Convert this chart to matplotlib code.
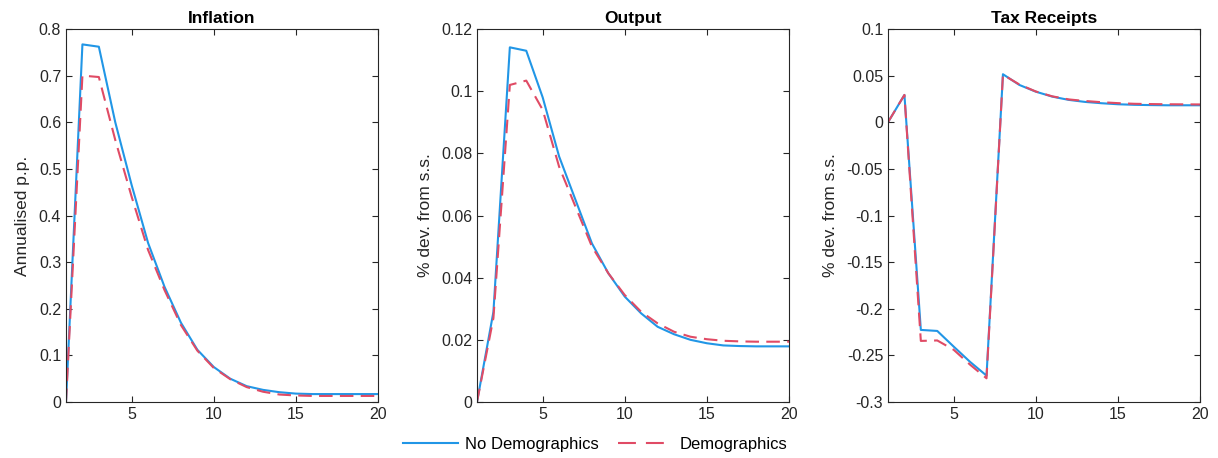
import matplotlib
matplotlib.use("Agg")
import matplotlib.pyplot as plt
from matplotlib.lines import Line2D
from matplotlib.ticker import FuncFormatter

plt.rcParams['font.family'] = ['Liberation Sans', 'DejaVu Sans']
plt.rcParams['axes.unicode_minus'] = False

periods = list(range(1, 21))

# Inflation (annualised p.p.)
infl_nodem = [0.0, 0.767, 0.762, 0.60, 0.465, 0.341, 0.247, 0.17, 0.112, 0.075,
              0.05, 0.034, 0.026, 0.021, 0.018, 0.017, 0.017, 0.017, 0.017, 0.017]
infl_dem = [0.0, 0.70, 0.697, 0.562, 0.44, 0.326, 0.24, 0.165, 0.11, 0.073,
            0.049, 0.032, 0.022, 0.016, 0.014, 0.013, 0.013, 0.013, 0.013, 0.013]

# Output (% dev. from s.s.)
out_nodem = [0.0, 0.029, 0.1141, 0.113, 0.098, 0.079, 0.065, 0.051, 0.0414, 0.0339,
             0.0285, 0.0242, 0.0218, 0.020, 0.0189, 0.0182, 0.018, 0.0179, 0.0179, 0.0179]
out_dem = [0.0, 0.027, 0.102, 0.1034, 0.094, 0.0757, 0.0628, 0.050, 0.0414, 0.0344,
           0.029, 0.0253, 0.0226, 0.021, 0.0202, 0.0197, 0.0195, 0.0194, 0.0194, 0.0194]

# Tax receipts (% dev. from s.s.)
tax_nodem = [0.0, 0.0293, -0.2227, -0.2238, -0.2406, -0.257, -0.2717, 0.0515, 0.040, 0.0328,
             0.0275, 0.024, 0.0218, 0.0204, 0.0193, 0.0187, 0.0184, 0.0182, 0.0182, 0.0182]
tax_dem = [0.0, 0.0293, -0.2345, -0.234, -0.244, -0.26, -0.2746, 0.051, 0.0405, 0.033,
           0.0278, 0.0245, 0.0228, 0.0215, 0.0205, 0.0198, 0.0195, 0.0193, 0.0192, 0.0191]

titles = ['Inflation', 'Output', 'Tax Receipts']
ylabels = ['Annualised p.p.', '% dev. from s.s.', '% dev. from s.s.']
ylims = [(0, 0.8), (0, 0.12), (-0.3, 0.1)]
yticks = [[0, 0.1, 0.2, 0.3, 0.4, 0.5, 0.6, 0.7, 0.8],
          [0, 0.02, 0.04, 0.06, 0.08, 0.1, 0.12],
          [-0.3, -0.25, -0.2, -0.15, -0.1, -0.05, 0, 0.05, 0.1]]
series = [(infl_nodem, infl_dem), (out_nodem, out_dem), (tax_nodem, tax_dem)]
legend_labels = ['No Demographics', 'Demographics']

blue = '#2196E6'
red = '#E04B65'

fig = plt.figure(figsize=(12.18, 4.58), dpi=100)
lefts = [66 / 1218, 477 / 1218, 888 / 1218]
for i in range(3):
    ax = fig.add_axes([lefts[i], 56 / 458, 312 / 1218, 373 / 458])
    nd, d = series[i]
    ax.plot(periods, nd, color=blue, lw=1.5)
    ax.plot(periods, d, color=red, lw=1.5, ls=(0, (6.5, 3.5)))
    ax.set_xlim(1, 20)
    ax.set_ylim(*ylims[i])
    ax.set_xticks([5, 10, 15, 20])
    ax.set_yticks(yticks[i])
    ax.yaxis.set_major_formatter(FuncFormatter(lambda v, p: '{:g}'.format(round(v, 4))))
    ax.tick_params(direction='in', top=True, right=True, labelsize=11.5,
                   color='#262626', labelcolor='#262626', length=4)
    for s in ax.spines.values():
        s.set_color('#262626')
        s.set_linewidth(0.8)
    ax.set_title(titles[i], fontsize=12.5, fontweight='bold', pad=4)
    ax.set_ylabel(ylabels[i], fontsize=12.5, color='#262626', labelpad=6)

handles = [Line2D([], [], color=blue, lw=1.5),
           Line2D([], [], color=red, lw=1.5, ls=(0, (8.6, 4.8)))]
fig.legend(handles, legend_labels, loc='center', bbox_to_anchor=(595 / 1218, 1 - 444 / 458),
           ncol=2, frameon=False, fontsize=12, handlelength=3.3, columnspacing=1.15,
           handletextpad=0.4)

fig.savefig('out.png', dpi=100)
